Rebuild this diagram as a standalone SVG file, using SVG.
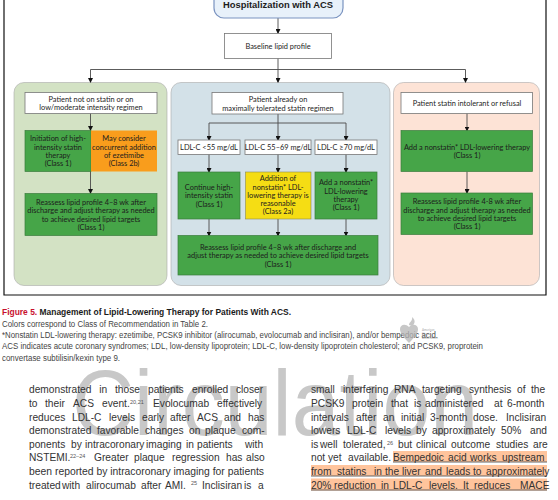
<svg xmlns="http://www.w3.org/2000/svg" width="558" height="500" viewBox="0 0 558 500">
<style>
text{font-family:"Lato","Liberation Sans",sans-serif;font-size:7.4px;fill:#1c1c1c;text-anchor:middle}
.w{fill:#fff;stroke:#777;stroke-width:.8}
.g{fill:#46a548;stroke:#3a7d3c;stroke-width:.7}
.o{fill:#f99d1c}
.y{fill:#f5dd14;stroke:#8a8a50;stroke-width:.6}
.c{fill:none;stroke:#4a4a4a;stroke-width:.9;marker-end:url(#a)}
.p{stroke:#a9a9a9;stroke-width:.6}
.cap text,.body text{font-family:"Liberation Sans",Arial,sans-serif;text-anchor:start}
.cap text{font-size:8.5px;fill:#444}
.body text{font-size:10.2px;fill:#333}
.body .s{font-size:5.500px;fill:#555}
.hl{fill:#ffc49c}
.ul{stroke:#555;stroke-width:.9}
</style>
<defs><marker id="a" markerWidth="5" markerHeight="5" refX="4" refY="2.5" orient="auto" markerUnits="userSpaceOnUse" viewBox="0 0 5 5"><path d="M0 0L5 2.5L0 5z" fill="#111"/></marker></defs>
<rect width="558" height="500" fill="#fff"/>
<path d="M4 0V295H546V0" fill="none" stroke="#111" stroke-width="1.2"/>
<g id="panel-green"><rect class="p" x="14" y="82.5" width="153" height="203" rx="10" fill="#d3e2c4"/></g>
<g id="panel-blue"><rect class="p" x="171" y="82.5" width="219" height="203" rx="10" fill="#d3e1e8"/></g>
<g id="panel-pink"><rect class="p" x="393.500" y="82.500" width="146" height="203" rx="10" fill="#fde3d6"/></g>
<g id="connectors">
<path class="c" d="M278 18V33"/>
<path class="c" d="M278 58V82"/>
<path class="c" d="M278 69.500H90.500V82"/>
<path class="c" d="M278 69.500H465.500V82"/>
<path class="c" d="M90.500 113V130"/>
<path class="c" d="M90.500 171V193"/>
<path class="c" d="M278 114V140"/>
<path class="c" d="M278 123H209V140"/>
<path class="c" d="M278 123H346V140"/>
<path class="c" d="M209 154V172"/>
<path class="c" d="M278 154V172"/>
<path class="c" d="M346 154V172"/>
<path class="c" d="M209 219V235.500"/>
<path class="c" d="M278 219V235.500"/>
<path class="c" d="M346 219V235.500"/>
<path class="c" d="M467 113V130.500"/>
<path class="c" d="M467 171.500V193"/>
</g>
<g id="n-hosp"><rect x="214" y="-12" width="129" height="30" rx="10" fill="#e8f1fa" stroke="#7a93c0" stroke-width="1.200"/><text x="278" y="8" style="font-size:9.400px;font-weight:700;font-family:'Liberation Sans',sans-serif">Hospitalization with ACS</text></g>
<g id="n-baseline"><rect class="w" x="224.500" y="33.500" width="107" height="25"/><text x="278" y="49">Baseline lipid profile</text></g>
<g id="n-notstatin"><rect class="w" x="25" y="92.500" width="132" height="21"/><text x="91" y="101.500">Patient not on statin or on</text><text x="91" y="110">low/moderate intensity regimen</text></g>
<g id="n-init"><rect class="g" x="25" y="130.500" width="66" height="41"/><text x="58" y="141">Initiation of high-</text><text x="58" y="149.500">intensity statin</text><text x="58" y="157.500">therapy</text><text x="58" y="166">(Class 1)</text></g>
<g id="n-ezet"><rect class="o" x="91" y="130.500" width="66" height="41"/><text x="124" y="141">May consider</text><text x="124" y="149.500">concurrent addition</text><text x="124" y="157.500">of ezetimibe</text><text x="124" y="166">(Class 2b)</text></g>
<g id="n-re1"><rect class="g" x="25" y="193.500" width="132" height="42"/><text x="91" y="204.500">Reassess lipid profile 4–8 wk after</text><text x="91" y="213">discharge and adjust therapy as needed</text><text x="91" y="221.500">to achieve desired lipid targets</text><text x="91" y="229.500">(Class 1)</text></g>
<g id="n-already"><rect class="w" x="212" y="92.500" width="131" height="21.500"/><text x="278" y="102">Patient already on</text><text x="278" y="110.500">maximally tolerated statin regimen</text></g>
<g id="n-l1"><rect class="w" x="178" y="140" width="62" height="14.500"/><text x="209" y="150">LDL-C &lt;55 mg/dL</text></g>
<g id="n-l2"><rect class="w" x="245" y="140" width="66" height="14.500"/><text x="278" y="150">LDL-C 55–69 mg/dL</text></g>
<g id="n-l3"><rect class="w" x="315" y="140" width="62" height="14.500"/><text x="346" y="150">LDL-C ≥70 mg/dL</text></g>
<g id="n-cont"><rect class="g" x="178" y="172" width="62" height="47"/><text x="209" y="189.500">Continue high-</text><text x="209" y="198">intensity statin</text><text x="209" y="206.500">(Class 1)</text></g>
<g id="n-add2a"><rect class="y" x="245.500" y="172" width="65.500" height="47"/><text x="278" y="181">Addition of</text><text x="278" y="189.500">nonstatin* LDL-</text><text x="278" y="197.500">lowering therapy is</text><text x="278" y="205.500">reasonable</text><text x="278" y="214">(Class 2a)</text></g>
<g id="n-add1"><rect class="g" x="315" y="172" width="62" height="47"/><text x="346" y="185">Add a nonstatin*</text><text x="346" y="193.500">LDL-lowering</text><text x="346" y="202">therapy</text><text x="346" y="210">(Class 1)</text></g>
<g id="n-re2"><rect class="g" x="178" y="235.500" width="200" height="39.500"/><text x="278" y="249.500">Reassess lipid profile 4–8 wk after discharge and</text><text x="278" y="258">adjust therapy as needed to achieve desired lipid targets</text><text x="278" y="266.500">(Class 1)</text></g>
<g id="n-intol"><rect class="w" x="401" y="92.500" width="131.500" height="21"/><text x="467" y="106">Patient statin intolerant or refusal</text></g>
<g id="n-add3"><rect class="g" x="401" y="130.500" width="131.500" height="41"/><text x="467" y="149.500">Add a nonstatin* LDL-lowering therapy</text><text x="467" y="157.500">(Class 1)</text></g>
<g id="n-re3"><rect class="g" x="401" y="193" width="131.500" height="41.500"/><text x="467" y="204">Reassess lipid profile 4-8 wk after</text><text x="467" y="212.500">discharge and adjust therapy as needed</text><text x="467" y="221">to achieve desired lipid targets</text><text x="467" y="229">(Class 1)</text></g>
<g class="cap">
<text x="2" y="315" textLength="289" lengthAdjust="spacingAndGlyphs" style="font-weight:700;fill:#1a1a1a"><tspan fill="#c8102e">Figure 5.</tspan> Management of Lipid-Lowering Therapy for Patients With ACS.</text>
<text x="2" y="326.500" textLength="206" lengthAdjust="spacingAndGlyphs">Colors correspond to Class of Recommendation in Table 2.</text>
<text x="2" y="338" textLength="436" lengthAdjust="spacingAndGlyphs">*Nonstatin LDL-lowering therapy: ezetimibe, PCSK9 inhibitor (alirocumab, evolocumab and inclisiran), and/or bempedoic acid.</text>
<text x="2" y="349" textLength="481" lengthAdjust="spacingAndGlyphs">ACS indicates acute coronary syndromes; LDL, low-density lipoprotein; LDL-C, low-density lipoprotein cholesterol; and PCSK9, proprotein</text>
<text x="2" y="360.500" textLength="118" lengthAdjust="spacingAndGlyphs">convertase subtilisin/kexin type 9.</text>
</g>
<g id="logo" opacity=".75"><path d="M409 343C403 337 400 333 400 329C400 325 405 323 409 327C413 323 418 325 418 329C418 333 415 337 409 343z" fill="#b5b5b5"/><path d="M409 325C409 322 413 321 412 317C416 320 415 324 412 326z" fill="#b5b5b5"/><g style="font-family:'Liberation Sans',sans-serif"><text x="422" y="331" style="font-size:3px;text-anchor:start;fill:#888">American</text><text x="422" y="335" style="font-size:3px;text-anchor:start;fill:#888">Heart</text><text x="422" y="339" style="font-size:3px;text-anchor:start;fill:#888">Association.</text></g></g>
<text x="72" y="435" textLength="406" lengthAdjust="spacingAndGlyphs" style="font-family:'Liberation Sans',sans-serif;font-size:92px;fill:#c8c8c8;text-anchor:start">Circulation</text>
<rect class="hl" x="393" y="451" width="154" height="11"/><rect class="hl" x="311" y="465" width="236" height="11"/><rect class="hl" x="311" y="478.500" width="236" height="12"/>
<path class="ul" d="M393 462H547M311 476H547M311 490H547"/>
<g class="body">
<text y="393"><tspan x="29">demonstrated</tspan><tspan x="99.300">in</tspan><tspan x="115">those</tspan><tspan x="148">patients</tspan><tspan x="192">enrolled</tspan><tspan x="236">closer</tspan></text>
<text y="407"><tspan x="29">to</tspan><tspan x="45">their</tspan><tspan x="73">ACS</tspan><tspan x="102">event.</tspan><tspan class="s" x="130" dy="-3.500">20,21</tspan><tspan x="153" dy="3.500">Evolocumab</tspan><tspan x="217">effectively</tspan></text>
<text y="420.500"><tspan x="29">reduces</tspan><tspan x="72">LDL-C</tspan><tspan x="109">levels</tspan><tspan x="142">early</tspan><tspan x="170">after</tspan><tspan x="197">ACS</tspan><tspan x="224">and</tspan><tspan x="248">has</tspan></text>
<text y="434"><tspan x="29">demonstrated</tspan><tspan x="97">favorable</tspan><tspan x="145">changes</tspan><tspan x="189">on</tspan><tspan x="205">plaque</tspan><tspan x="242">com-</tspan></text>
<text y="448"><tspan x="29">ponents</tspan><tspan x="71">by</tspan><tspan x="85">intracoronary</tspan><tspan x="146">imaging</tspan><tspan x="186">in</tspan><tspan x="197">patients</tspan><tspan x="245">with</tspan></text>
<text y="461"><tspan x="29">NSTEMI.</tspan><tspan class="s" x="70" dy="-3.500">22–24</tspan><tspan x="94" dy="3.500">Greater</tspan><tspan x="134">plaque</tspan><tspan x="172">regression</tspan><tspan x="226">has</tspan><tspan x="246">also</tspan></text>
<text y="475" x="29" textLength="235" lengthAdjust="spacingAndGlyphs">been reported by intracoronary imaging for patients</text>
<text y="488.500"><tspan x="29">treated</tspan><tspan x="62">with</tspan><tspan x="86">alirocumab</tspan><tspan x="141">after</tspan><tspan x="165">AMI.</tspan><tspan class="s" x="191" dy="-3.500">25</tspan><tspan x="202" dy="3.500">Inclisiran</tspan><tspan x="244">is</tspan><tspan x="258">a</tspan></text>
<text y="393"><tspan x="311">small</tspan><tspan x="343">interfering</tspan><tspan x="394">RNA</tspan><tspan x="422">targeting</tspan><tspan x="469">synthesis</tspan><tspan x="517">of</tspan><tspan x="531">the</tspan></text>
<text y="407"><tspan x="311">PCSK9</tspan><tspan x="352">protein</tspan><tspan x="391">that</tspan><tspan x="414">is</tspan><tspan x="425">administered</tspan><tspan x="494">at</tspan><tspan x="507">6-month</tspan></text>
<text y="420.500"><tspan x="311">intervals</tspan><tspan x="356">after</tspan><tspan x="383">an</tspan><tspan x="401">initial</tspan><tspan x="430">3-month</tspan><tspan x="473">dose.</tspan><tspan x="506">Inclisiran</tspan></text>
<text y="434"><tspan x="311">lowers</tspan><tspan x="347">LDL-C</tspan><tspan x="385">levels</tspan><tspan x="416">by</tspan><tspan x="432">approximately</tspan><tspan x="501">50%</tspan><tspan x="530">and</tspan></text>
<text y="448"><tspan x="311">is</tspan><tspan x="320">well</tspan><tspan x="343">tolerated,</tspan><tspan class="s" x="387" dy="-3.500">26</tspan><tspan x="398" dy="3.500">but</tspan><tspan x="416">clinical</tspan><tspan x="451">outcome</tspan><tspan x="496">studies</tspan><tspan x="533">are</tspan></text>
<text y="461"><tspan x="311">not</tspan><tspan x="328">yet</tspan><tspan x="348">available.</tspan><tspan x="393">Bempedoic</tspan><tspan x="448">acid</tspan><tspan x="470">works</tspan><tspan x="502">upstream</tspan></text>
<text y="475"><tspan x="311">from</tspan><tspan x="337">statins</tspan><tspan x="374">in</tspan><tspan x="385">the</tspan><tspan x="402">liver</tspan><tspan x="425">and</tspan><tspan x="446">leads</tspan><tspan x="473">to</tspan><tspan x="486">approximately</tspan></text>
<text y="488.500"><tspan x="311">20%</tspan><tspan x="334">reduction</tspan><tspan x="381">in</tspan><tspan x="393">LDL-C</tspan><tspan x="429">levels.</tspan><tspan x="463">It</tspan><tspan x="474">reduces</tspan><tspan x="520">MACE</tspan></text>
</g>
</svg>
